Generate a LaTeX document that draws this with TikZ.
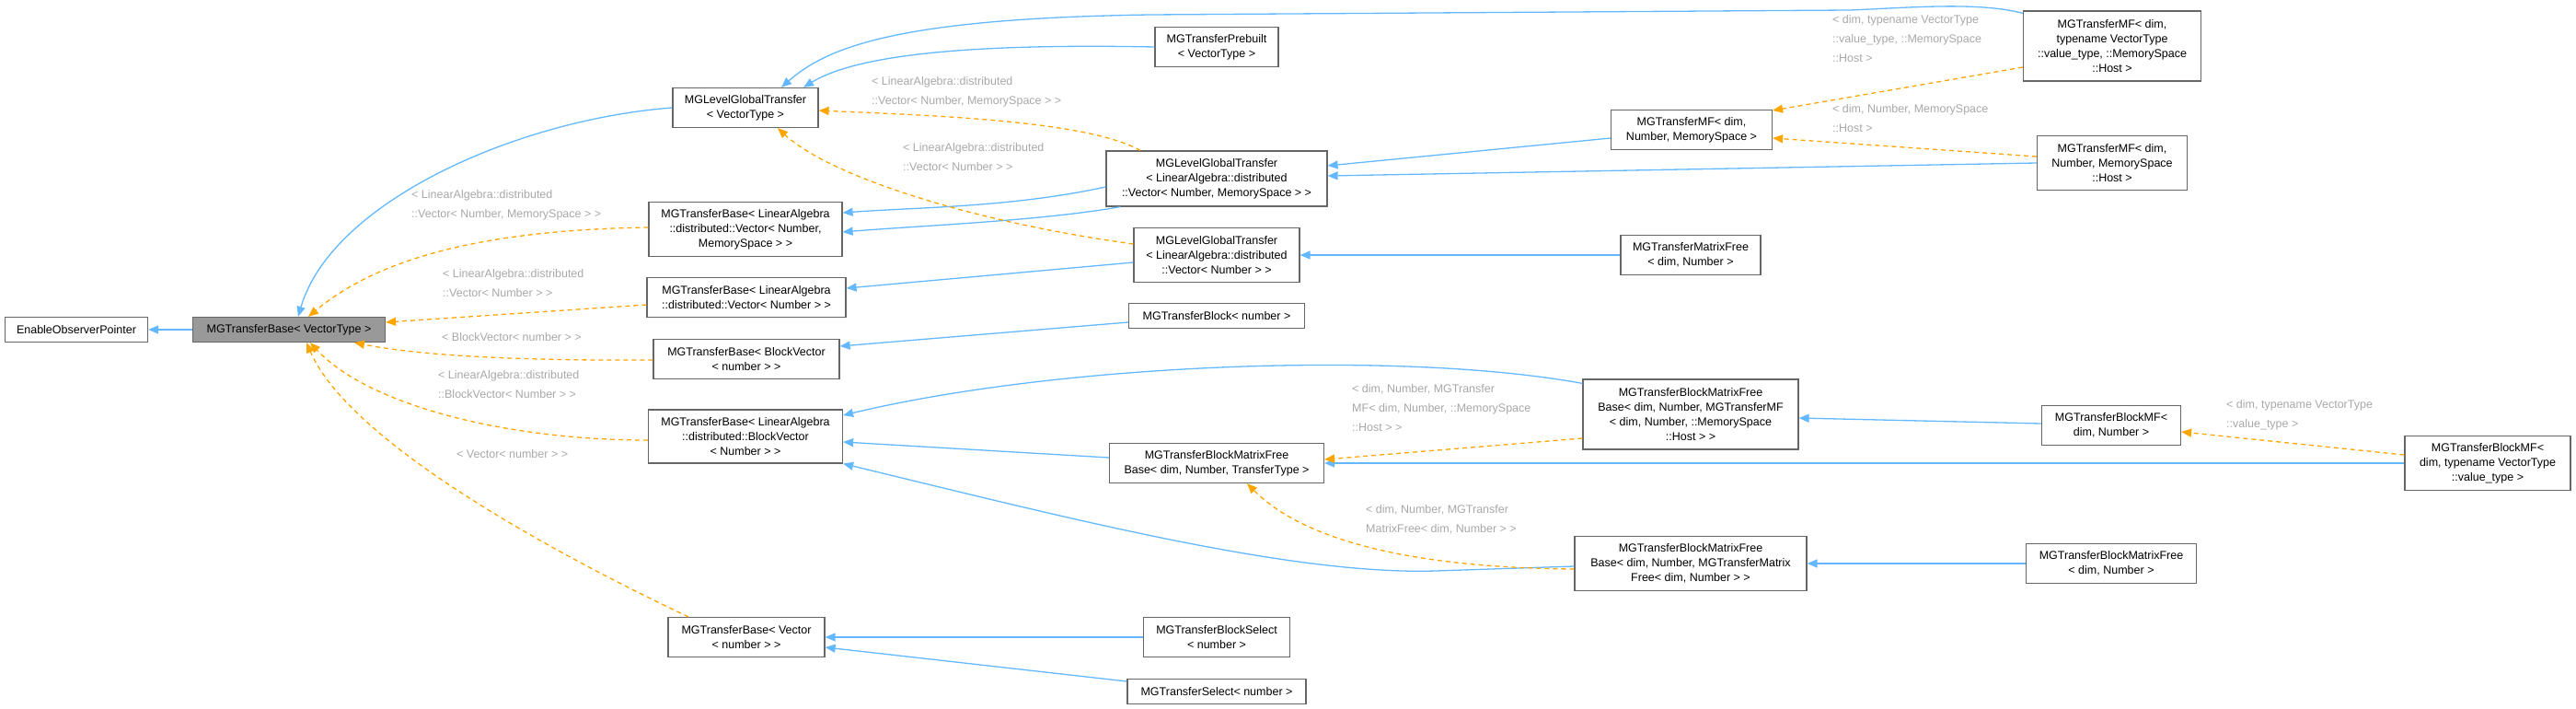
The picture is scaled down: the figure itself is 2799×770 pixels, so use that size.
\documentclass[tikz,border=0pt]{standalone}
\usepackage{fontspec}
\setmainfont{Liberation Sans}
\usetikzlibrary{arrows.meta}
\definecolor{eblue}{HTML}{63B8FF}
\definecolor{eorange}{HTML}{FFA500}
\definecolor{lgray}{HTML}{A8A8A8}
\definecolor{bgray}{HTML}{666666}
\definecolor{fgray}{HTML}{999999}
\begin{document}
\begin{tikzpicture}[x=1pt,y=-1pt,
  box/.style={draw=bgray,line width=1.2pt,fill=white,align=center,inner sep=2pt,font=\fontsize{12.5}{16}\selectfont},
  ba/.style={draw=eblue,line width=1.3pt,-{Triangle[length=11pt,width=9pt]}},
  oa/.style={draw=eorange,line width=1.3pt,dash pattern=on 5pt off 4pt,-{Triangle[length=11pt,width=9pt]}},
  lab/.style={anchor=north west,align=left,inner sep=0pt,text=lgray,font=\fontsize{12.5}{21}\selectfont}]
\useasboundingbox (0,0) rectangle (2799,770);
% nodes
\node[box,minimum width=155pt,minimum height=27pt] (eop) at (83,358) {EnableObserverPointer};
\node[box,fill=fgray,minimum width=209pt,minimum height=27pt] (tb) at (314,358) {MGTransferBase< VectorType >};
\node[box,minimum width=158pt,minimum height=43pt] (lgt) at (810,117) {MGLevelGlobalTransfer\\< VectorType >};
\node[box,minimum width=210pt,minimum height=59pt] (tbv) at (810,249) {MGTransferBase< LinearAlgebra\\::distributed::Vector< Number,\\MemorySpace > >};
\node[box,minimum width=216pt,minimum height=43pt] (tbvn) at (811,323) {MGTransferBase< LinearAlgebra\\::distributed::Vector< Number > >};
\node[box,minimum width=202pt,minimum height=43pt] (tbb) at (811,390) {MGTransferBase< BlockVector\\< number > >};
\node[box,minimum width=211pt,minimum height=58pt] (tbbv) at (810,474) {MGTransferBase< LinearAlgebra\\::distributed::BlockVector\\< Number > >};
\node[box,minimum width=170pt,minimum height=43pt] (tbs) at (811,692) {MGTransferBase< Vector\\< number > >};
\node[box,minimum width=134pt,minimum height=43pt] (pre) at (1322,51) {MGTransferPrebuilt\\< VectorType >};
\node[box,minimum width=240pt,minimum height=60pt] (lgtv) at (1322,194) {MGLevelGlobalTransfer\\< LinearAlgebra::distributed\\::Vector< Number, MemorySpace > >};
\node[box,minimum width=180pt,minimum height=59pt] (lgtvn) at (1322,277) {MGLevelGlobalTransfer\\< LinearAlgebra::distributed\\::Vector< Number > >};
\node[box,minimum width=191pt,minimum height=27pt] (blk) at (1322,343) {MGTransferBlock< number >};
\node[box,minimum width=233pt,minimum height=43pt] (bmfb) at (1322,503) {MGTransferBlockMatrixFree\\Base< dim, Number, TransferType >};
\node[box,minimum width=159pt,minimum height=43pt] (bsel) at (1322,692) {MGTransferBlockSelect\\< number >};
\node[box,minimum width=194pt,minimum height=27pt] (sel) at (1322,751) {MGTransferSelect< number >};
\node[box,minimum width=175pt,minimum height=43pt] (mfa) at (1838,141) {MGTransferMF< dim,\\ Number, MemorySpace >};
\node[box,minimum width=152pt,minimum height=43pt] (mfree) at (1837,277) {MGTransferMatrixFree\\< dim, Number >};
\node[box,minimum width=234pt,minimum height=76pt] (bmfbmf) at (1837,450) {MGTransferBlockMatrixFree\\Base< dim, Number, MGTransferMF\\< dim, Number, ::MemorySpace\\::Host > >};
\node[box,minimum width=252pt,minimum height=59pt] (bmfbfree) at (1837,612) {MGTransferBlockMatrixFree\\Base< dim, Number, MGTransferMatrix\\Free< dim, Number > >};
\node[box,minimum width=193pt,minimum height=76pt] (mft) at (2295,50) {MGTransferMF< dim,\\ typename VectorType\\::value\_type, ::MemorySpace\\::Host >};
\node[box,minimum width=163pt,minimum height=59pt] (mfh) at (2295,177) {MGTransferMF< dim,\\ Number, MemorySpace\\::Host >};
\node[box,minimum width=151pt,minimum height=43pt] (bmf) at (2294,462) {MGTransferBlockMF<\\ dim, Number >};
\node[box,minimum width=185pt,minimum height=43pt] (bmff) at (2294,612) {MGTransferBlockMatrixFree\\< dim, Number >};
\node[box,minimum width=180pt,minimum height=59pt] (bmft) at (2703,503) {MGTransferBlockMF<\\ dim, typename VectorType\\::value\_type >};
% labels
\node[lab] (l1) at (947,83) {< LinearAlgebra::distributed\\ ::Vector< Number, MemorySpace > >};
\node[lab] (l2) at (981,155) {< LinearAlgebra::distributed\\ ::Vector< Number > >};
\node[lab] (l3) at (447,206) {< LinearAlgebra::distributed\\ ::Vector< Number, MemorySpace > >};
\node[lab] (l4) at (481,292) {< LinearAlgebra::distributed\\ ::Vector< Number > >};
\node[lab] (l5) at (480,361) {< BlockVector< number > >};
\node[lab] (l6) at (476,402) {< LinearAlgebra::distributed\\ ::BlockVector< Number > >};
\node[lab] (l7) at (496,488) {< Vector< number > >};
\node[lab] (l8) at (1991,16) {< dim, typename VectorType\\ ::value\_type, ::MemorySpace\\ ::Host >};
\node[lab] (l9) at (1991,113) {< dim, Number, MemorySpace\\ ::Host >};
\node[lab] (l10) at (1469,417) {< dim, Number, MGTransfer\\ MF< dim, Number, ::MemorySpace\\ ::Host > >};
\node[lab] (l11) at (1484,548) {< dim, Number, MGTransfer\\ MatrixFree< dim, Number > >};
\node[lab] (l12) at (2419,434) {< dim, typename VectorType\\ ::value\_type >};
% blue edges
\draw[ba] (tb.west) -- (eop.east);
\draw[ba] (lgt.west) .. controls (560,130) and (360,220) .. ([xshift=10pt]tb.north);
\draw[ba] ([yshift=-3pt]mft.north west) .. controls (2150,2) and (2080,8) .. (2010,11) -- (1250,16) .. controls (980,20) and (900,50) .. ([xshift=39pt]lgt.north);
\draw[ba] (pre.west) .. controls (1050,47) and (930,60) .. ([xshift=63pt]lgt.north);
\draw[ba] ([yshift=-9pt]lgtv.west) .. controls (1100,225) and (1000,225) .. ([yshift=18pt]tbv.east);
\draw[ba] ([xshift=16pt]lgtv.south west) .. controls (1130,240) and (1000,245) .. ([yshift=-3pt]tbv.east);
\draw[ba] ([yshift=-8pt]lgtvn.west) -- ([yshift=10pt]tbvn.east);
\draw[ba] ([yshift=-7pt]blk.west) -- ([yshift=14pt]tbb.east);
\draw[ba] ([yshift=-5pt]bmfbmf.north west) .. controls (1520,380) and (1150,395) .. ([yshift=23pt]tbbv.east);
\draw[ba] ([yshift=6pt]bmfb.west) -- ([yshift=-6pt]tbbv.east);
\draw[ba] ([yshift=-3pt]bmfbfree.west) -- (1560,620) .. controls (1400,625) and (1150,560) .. (tbbv.south east);
\draw[ba] (bsel.west) -- (tbs.east);
\draw[ba] ([yshift=11pt]sel.west) -- ([yshift=-11pt]tbs.east);
\draw[ba] ([yshift=-9pt]mfa.west) -- ([yshift=14pt]lgtv.east);
\draw[ba] (mfh.west) -- ([yshift=3pt]lgtv.east);
\draw[ba] (mfree.west) -- (lgtvn.east);
\draw[ba] ([yshift=2pt]bmf.west) -- ([yshift=-4pt]bmfbmf.east);
\draw[ba] (bmft.west) -- (bmfb.east);
\draw[ba] (bmff.west) -- (bmfbfree.east);
% orange edges
\draw[oa] ([yshift=2pt]tbv.west) .. controls (500,250) and (400,290) .. ([xshift=21pt]tb.north);
\draw[oa] ([yshift=-8pt]tbvn.west) -- ([yshift=8pt]tb.east);
\draw[oa] ([yshift=-1pt]tbb.west) .. controls (550,392) and (450,385) .. ([xshift=71pt]tb.south);
\draw[oa] ([yshift=-4pt]tbbv.west) .. controls (550,478) and (400,440) .. ([xshift=23pt]tb.south);
\draw[oa] ([xshift=-63pt]tbs.north) .. controls (600,600) and (380,480) .. ([xshift=19pt]tb.south);
\draw[oa] ([xshift=-83pt]lgtv.north) .. controls (1180,130) and (1000,125) .. ([yshift=-3pt]lgt.east);
\draw[oa] ([yshift=12pt]lgtvn.west) .. controls (1050,240) and (900,190) .. ([xshift=35pt]lgt.south);
\draw[oa] ([yshift=-23pt]mft.west) -- ([yshift=21pt]mfa.east);
\draw[oa] ([yshift=7pt]mfh.west) -- ([yshift=-9pt]mfa.east);
\draw[oa] ([yshift=-26pt]bmfbmf.west) -- ([yshift=4pt]bmfb.east);
\draw[oa] ([yshift=-6pt]bmfbfree.west) .. controls (1580,617) and (1430,600) .. ([xshift=33pt]bmfb.south);
\draw[oa] ([yshift=9pt]bmft.west) -- ([yshift=-7pt]bmf.east);
\end{tikzpicture}
\end{document}
